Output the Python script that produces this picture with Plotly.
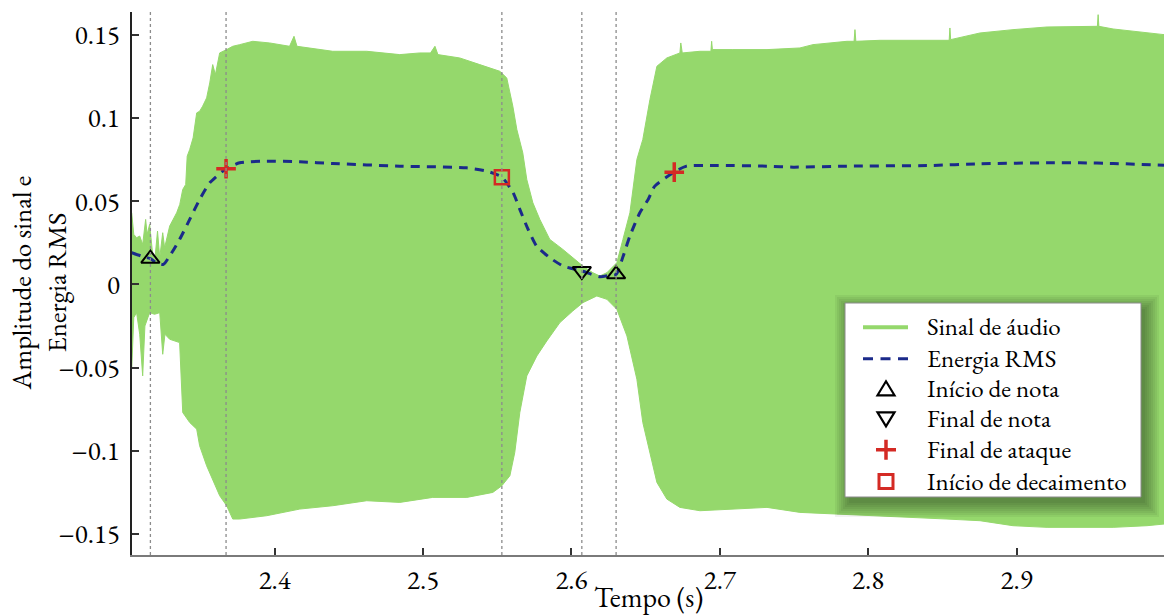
import plotly.graph_objects as go

# ---------------- data ----------------
# upper envelope of the audio signal
t_up = [2.3036, 2.3050, 2.3069, 2.3090, 2.3110, 2.3130, 2.3140, 2.3157, 2.3175, 2.3191,
        2.3210, 2.3225, 2.3245, 2.3258, 2.3292, 2.3320, 2.3339, 2.3360, 2.3380, 2.3400,
        2.3410, 2.3427, 2.3450, 2.3474, 2.3494, 2.3514, 2.3541, 2.3562, 2.3582, 2.3600,
        2.3629, 2.3676, 2.3717, 2.3764, 2.3852, 2.3966, 2.4100, 2.4130, 2.4150, 2.4391,
        2.4620, 2.4843, 2.4978, 2.5050, 2.5080, 2.5100, 2.5247, 2.5382, 2.5517, 2.5564,
        2.5605, 2.5632, 2.5672, 2.5699, 2.5740, 2.5787, 2.5854, 2.5942, 2.6009, 2.6077,
        2.6144, 2.6191, 2.6239, 2.6306, 2.6347, 2.6394, 2.6441, 2.6481, 2.6529, 2.6576,
        2.6643, 2.6731, 2.6737, 2.6742, 2.6747, 2.6866, 2.6940, 2.6945, 2.6950, 2.7088,
        2.7318, 2.7540, 2.7628, 2.7857, 2.7905, 2.7911, 2.7917, 2.8080, 2.8302, 2.8531,
        2.8546, 2.8551, 2.8556, 2.8754, 2.8976, 2.9206, 2.9428, 2.9545, 2.9550, 2.9555,
        2.9651, 2.9880, 2.9994]
y_up = [0.043, 0.030, 0.028, 0.029, 0.024, 0.039, 0.030, 0.036, 0.020, 0.014,
        0.032, 0.016, 0.031, 0.022, 0.035, 0.040, 0.043, 0.048, 0.057, 0.060,
        0.077, 0.081, 0.088, 0.103, 0.104, 0.107, 0.112, 0.121, 0.132, 0.126,
        0.139, 0.141, 0.143, 0.144, 0.146, 0.145, 0.143, 0.149, 0.143, 0.140,
        0.140, 0.138, 0.139, 0.139, 0.143, 0.138, 0.136, 0.132, 0.128, 0.124,
        0.107, 0.093, 0.079, 0.063, 0.049, 0.039, 0.027, 0.021, 0.016, 0.011,
        0.007, 0.005, 0.007, 0.013, 0.027, 0.043, 0.075, 0.087, 0.111, 0.131,
        0.136, 0.139, 0.145, 0.139, 0.139, 0.140, 0.140, 0.146, 0.141, 0.141,
        0.141, 0.142, 0.144, 0.146, 0.146, 0.153, 0.146, 0.1466, 0.1466, 0.1466,
        0.1466, 0.154, 0.147, 0.151, 0.153, 0.1546, 0.155, 0.155, 0.162, 0.155,
        0.1534, 0.151, 0.150]

# lower envelope of the audio signal
t_lo = [2.3036, 2.3050, 2.3069, 2.3090, 2.3110, 2.3125, 2.3157, 2.3190, 2.3225, 2.3245,
        2.3260, 2.3292, 2.3359, 2.3380, 2.3427, 2.3474, 2.3494, 2.3541, 2.3582, 2.3629,
        2.3676, 2.3717, 2.3764, 2.3946, 2.4169, 2.4391, 2.4620, 2.4843, 2.5065, 2.5295,
        2.5470, 2.5531, 2.5585, 2.5618, 2.5652, 2.5699, 2.5767, 2.5834, 2.5922, 2.6009,
        2.6077, 2.6171, 2.6239, 2.6306, 2.6374, 2.6441, 2.6481, 2.6529, 2.6576, 2.6643,
        2.6731, 2.6866, 2.7088, 2.7318, 2.7540, 2.7628, 2.7857, 2.8080, 2.8302, 2.8531,
        2.8754, 2.8976, 2.9206, 2.9428, 2.9651, 2.9880, 2.9994]
y_lo = [-0.051, -0.020, -0.017, -0.030, -0.055, -0.025, -0.017, -0.018, -0.017, -0.042,
        -0.030, -0.033, -0.035, -0.077, -0.083, -0.087, -0.097, -0.109, -0.117, -0.127,
        -0.133, -0.141, -0.141, -0.139, -0.135, -0.133, -0.130, -0.131, -0.128, -0.128,
        -0.125, -0.121, -0.115, -0.101, -0.077, -0.055, -0.043, -0.034, -0.023, -0.016,
        -0.011, -0.007, -0.009, -0.015, -0.031, -0.057, -0.083, -0.101, -0.119, -0.129,
        -0.134, -0.136, -0.135, -0.134, -0.137, -0.137, -0.138, -0.139, -0.140, -0.141,
        -0.142, -0.145, -0.146, -0.146, -0.146, -0.145, -0.144]

# RMS energy curve
t_rms = [2.3036, 2.3100, 2.3162, 2.3202, 2.3250, 2.3292, 2.3359, 2.3427, 2.3494, 2.3562,
         2.3672, 2.3764, 2.3944, 2.4169, 2.4390, 2.4843, 2.5293, 2.5428, 2.5531, 2.5607,
         2.5652, 2.5708, 2.5765, 2.5854, 2.5944, 2.6070, 2.6192, 2.6259, 2.6301, 2.6349,
         2.6394, 2.6461, 2.6517, 2.6562, 2.6693, 2.6776, 2.6978, 2.7316, 2.7495, 2.7855,
         2.8417, 2.8754, 2.9204, 2.9428, 2.9653, 2.9994]
y_rms = [0.019, 0.017, 0.0154, 0.013, 0.012, 0.017, 0.027, 0.039, 0.051, 0.061,
         0.0694, 0.073, 0.074, 0.0736, 0.0726, 0.071, 0.070, 0.068, 0.0644, 0.055,
         0.045, 0.033, 0.023, 0.016, 0.011, 0.008, 0.0046, 0.0055, 0.006, 0.017,
         0.029, 0.043, 0.051, 0.059, 0.0674, 0.071, 0.0714, 0.071, 0.0704, 0.071,
         0.0714, 0.0724, 0.073, 0.073, 0.0726, 0.0716]

# detected events
onset_t = [2.3162, 2.6301]
onset_y = [0.0154, 0.0060]
offset_t = [2.6070]
offset_y = [0.0080]
attack_end_t = [2.3672, 2.6693]
attack_end_y = [0.0694, 0.0674]
decay_start_t = [2.5531]
decay_start_y = [0.0644]
event_lines_t = [2.3162, 2.3672, 2.5531, 2.6070, 2.6301]

x_ticks = [2.4, 2.5, 2.6, 2.7, 2.8, 2.9]
y_ticks = [-0.15, -0.1, -0.05, 0, 0.05, 0.1, 0.15]
y_ticklabels = ["\u22120.15", "\u22120.1", "\u22120.05", "0", "0.05", "0.1", "0.15"]

legend_labels = ["Sinal de áudio", "Energia RMS", "Início de nota", "Final de nota",
                 "Final de ataque", "Início de decaimento"]

# ---------------- figure ----------------
GREEN = "#95D86C"
BLUE = "#1B2A8A"
RED = "#D42A24"
FONT = "EB Garamond, Liberation Serif, serif"

W, H = 1164, 615
ML, MR, MT, MB = 132, 0, 12, 60
PW, PH = W - ML - MR, H - MT - MB


def px_x(px):
    return (px - ML) / PW


def px_y(py):
    return (H - MB - py) / PH


fig = go.Figure()

# audio signal envelope
fig.add_trace(go.Scatter(x=t_up + t_lo[::-1], y=y_up + y_lo[::-1], mode="lines",
                         fill="toself", fillcolor=GREEN, line=dict(color=GREEN, width=1),
                         name=legend_labels[0], hoverinfo="skip"))

fig.add_trace(go.Scatter(x=t_rms, y=y_rms, mode="lines", name=legend_labels[1],
                         line=dict(color=BLUE, width=3, dash="9px,7px", shape="spline",
                                   smoothing=0.6)))

fig.add_trace(go.Scatter(x=onset_t, y=onset_y, mode="markers", name=legend_labels[2],
                         marker=dict(symbol="triangle-up-open", size=16, color="black",
                                     line=dict(width=2, color="black"))))
fig.add_trace(go.Scatter(x=offset_t, y=offset_y, mode="markers", name=legend_labels[3],
                         marker=dict(symbol="triangle-down-open", size=16, color="black",
                                     line=dict(width=2, color="black"))))
fig.add_trace(go.Scatter(x=attack_end_t, y=attack_end_y, mode="markers", name=legend_labels[4],
                         marker=dict(symbol="cross-thin-open", size=14, color=RED,
                                     line=dict(width=3.5, color=RED))))
fig.add_trace(go.Scatter(x=decay_start_t, y=decay_start_y, mode="markers",
                         name=legend_labels[5],
                         marker=dict(symbol="square-open", size=14, color=RED,
                                     line=dict(width=2.5, color=RED))))

shapes = []
for t in event_lines_t:
    shapes.append(dict(type="line", xref="x", yref="paper", x0=t, x1=t, y0=0, y1=1,
                       line=dict(color="#8c8c8c", width=1.3, dash="dot"), layer="above"))

# ---- legend box (drawn in page pixels) with a soft drop shadow ----
lx0, ly0, lx1, ly1 = 845, 303, 1141, 497
for i in range(8):
    g = 2 * i
    shapes.append(dict(type="rect", xref="paper", yref="paper",
                       x0=px_x(lx0 + 4 - g), x1=px_x(lx1 + 4 + g),
                       y0=px_y(ly1 + 6 + g), y1=px_y(ly0 + 6 - g),
                       fillcolor="black", opacity=0.05, line=dict(width=0), layer="above"))
shapes.append(dict(type="rect", xref="paper", yref="paper",
                   x0=px_x(lx0), x1=px_x(lx1), y0=px_y(ly1), y1=px_y(ly0),
                   fillcolor="white", line=dict(color="#8a8a8a", width=1), layer="above"))

row_y = [327.3, 358.8, 388.8, 418.8, 449.8, 481.5]
sym_x = 886
line_x0, line_x1 = 863, 908
text_x = 925


def path(points, close=True):
    s = "M " + " L ".join(f"{px_x(x):.5f},{px_y(y):.5f}" for x, y in points)
    return s + (" Z" if close else "")


# line samples
shapes.append(dict(type="line", xref="paper", yref="paper", x0=px_x(line_x0), x1=px_x(line_x1),
                   y0=px_y(row_y[0]), y1=px_y(row_y[0]), line=dict(color=GREEN, width=4),
                   layer="above"))
shapes.append(dict(type="line", xref="paper", yref="paper", x0=px_x(line_x0), x1=px_x(line_x1),
                   y0=px_y(row_y[1]), y1=px_y(row_y[1]),
                   line=dict(color=BLUE, width=3, dash="10px,7.5px"), layer="above"))
# triangle up
cy = row_y[2]
shapes.append(dict(type="path", xref="paper", yref="paper", layer="above",
                   path=path([(sym_x - 8.5, cy + 6.5), (sym_x + 8.5, cy + 6.5), (sym_x, cy - 7.5)]),
                   line=dict(color="black", width=2.2)))
# triangle down
cy = row_y[3]
shapes.append(dict(type="path", xref="paper", yref="paper", layer="above",
                   path=path([(sym_x - 8.5, cy - 6.5), (sym_x + 8.5, cy - 6.5), (sym_x, cy + 7.5)]),
                   line=dict(color="black", width=2.2)))
# plus
cy = row_y[4]
shapes.append(dict(type="path", xref="paper", yref="paper", layer="above",
                   path=path([(sym_x - 10, cy), (sym_x + 10, cy)], close=False) + " " +
                   path([(sym_x, cy - 10), (sym_x, cy + 10)], close=False),
                   line=dict(color=RED, width=3.5)))
# square
cy = row_y[5]
shapes.append(dict(type="path", xref="paper", yref="paper", layer="above",
                   path=path([(sym_x - 7, cy - 7), (sym_x + 7, cy - 7), (sym_x + 7, cy + 7),
                              (sym_x - 7, cy + 7)]),
                   line=dict(color=RED, width=3)))

annotations = [
    dict(text="Amplitude do sinal e<br>Energia RMS", xref="paper", yref="paper",
         x=px_x(38), y=0.5, xanchor="center", yanchor="middle",
         textangle=-90, showarrow=False, font=dict(family=FONT, size=27)),
    dict(text="Tempo (s)", xref="paper", yref="paper", x=0.5,
         y=px_y(597), xanchor="center", yanchor="middle",
         showarrow=False, font=dict(family=FONT, size=28)),
]
for lab, ry in zip(legend_labels, row_y):
    annotations.append(dict(text=lab, xref="paper", yref="paper", x=px_x(text_x), y=px_y(ry - 1),
                            xanchor="left", yanchor="middle", showarrow=False,
                            font=dict(family=FONT, size=25, color="black")))

fig.update_layout(
    width=W, height=H,
    margin=dict(l=ML, r=MR, t=MT, b=MB),
    paper_bgcolor="white", plot_bgcolor="white",
    font=dict(family=FONT, size=27, color="black"),
    showlegend=False,
    shapes=shapes,
    annotations=annotations,
)

fig.update_xaxes(range=[2.3038, 2.9994], showgrid=False, zeroline=False,
                 showline=True, linecolor="#7a7a7a", linewidth=2,
                 tickmode="array", tickvals=x_ticks, ticktext=[str(v) for v in x_ticks],
                 ticks="inside", ticklen=7, tickwidth=1.5, tickcolor="#333",
                 tickfont=dict(family=FONT, size=27))
fig.update_yaxes(range=[-0.1626, 0.1636], showgrid=False, zeroline=False,
                 showline=True, linecolor="#222", linewidth=1.5,
                 tickmode="array", tickvals=y_ticks, ticktext=y_ticklabels,
                 ticks="inside", ticklen=7, tickwidth=1.5, tickcolor="#333",
                 ticklabelstandoff=5, tickfont=dict(family=FONT, size=27))

fig.write_html("out.html", config={"displayModeBar": False},
               post_script="document.body.style.margin='0px';")
